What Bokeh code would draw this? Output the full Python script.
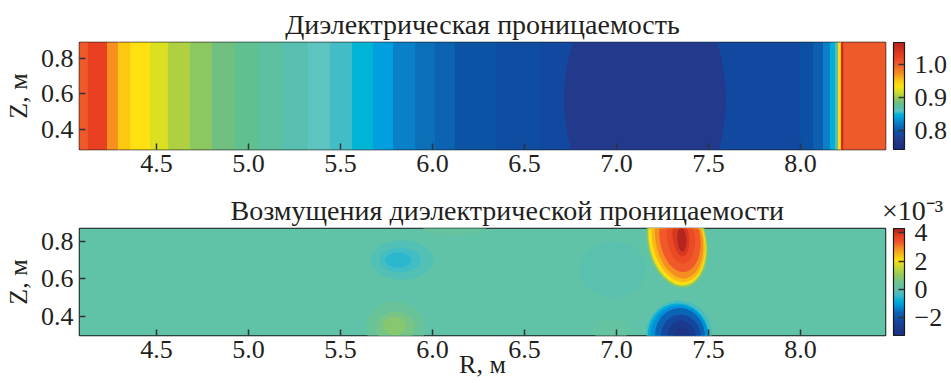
import numpy as np
from bokeh.plotting import figure
from bokeh.layouts import column
from bokeh.models import (ColumnDataSource, LinearColorMapper, ColorBar, FixedTicker,
                          PrintfTickFormatter, CustomJSTickFormatter, Title, Range1d)
from bokeh.transform import transform
from bokeh.embed import file_html
from bokeh.resources import INLINE

# ---------------- data ----------------
R_min, R_max = 4.082, 8.462
Z1_min, Z1_max = 0.287, 0.890
Z2_min, Z2_max = 0.299, 0.868

r_ticks = [4.5, 5.0, 5.5, 6.0, 6.5, 7.0, 7.5, 8.0]
z_ticks = [0.4, 0.6, 0.8]
eps_ticks = [0.8, 0.9, 1.0]
pert_ticks = [-2, 0, 2, 4]
pert_scale_text = "×10⁻³"
eps_low, eps_high = 0.743, 1.065
pert_low, pert_high = -3.24, 4.31   # x 1e-3

# permittivity: contour bands along R (left edge, right edge, level)
eps_left = [4.082, 4.130, 4.234, 4.293, 4.359, 4.467, 4.565, 4.685, 4.804, 4.929,
            5.054, 5.190, 5.326, 5.446, 5.565, 5.679, 5.788, 5.908, 6.016, 6.125,
            6.353, 6.587, 8.000, 8.071, 8.125, 8.163, 8.190, 8.207, 8.222, 8.236]
eps_right = [4.130, 4.234, 4.293, 4.359, 4.467, 4.565, 4.685, 4.804, 4.929, 5.054,
             5.190, 5.326, 5.446, 5.565, 5.679, 5.788, 5.908, 6.016, 6.125, 6.353,
             6.587, 8.000, 8.071, 8.125, 8.163, 8.190, 8.207, 8.222, 8.236, 8.462]
eps_level = [1.000, 1.025, 0.970, 0.950, 0.935, 0.920, 0.905, 0.895, 0.885, 0.878,
             0.872, 0.866, 0.860, 0.855, 0.848, 0.838, 0.825, 0.815, 0.808, 0.798,
             0.793, 0.789, 0.795, 0.805, 0.825, 0.845, 0.870, 0.935, 1.050, 1.000]
# permittivity minimum region (centre R, centre Z, extent R, extent Z, level)
eps_core_R = [7.155]
eps_core_Z = [0.57]
eps_core_w = [0.88]
eps_core_h = [1.40]
eps_core_level = [0.772]

# perturbation (x 1e-3): background level and contour levels of the features
pert_background = 0.05
pert_level = [0.4, 0.9, 1.5, 2.1, 2.5, 2.9, 3.3, 3.6, 3.9, 4.2,
              -0.3, -0.8, -1.2, -1.6, -2.2, -2.7, -3.0,
              -0.15, -0.35, -0.55,
              0.3, 0.6, 0.85,
              -0.06, 0.2, 0.18]
pert_R = [7.33, 7.33, 7.33, 7.33, 7.335, 7.34, 7.345, 7.35, 7.35, 7.355,
          7.34, 7.335, 7.34, 7.345, 7.35, 7.355, 7.36,
          5.835, 5.825, 5.815,
          5.80, 5.80, 5.795,
          6.98, 6.12, 6.97]
pert_Z = [0.795, 0.797, 0.80, 0.80, 0.805, 0.81, 0.815, 0.82, 0.82, 0.81,
          0.30, 0.30, 0.30, 0.30, 0.29, 0.28, 0.27,
          0.70, 0.70, 0.70,
          0.34, 0.34, 0.35,
          0.65, 0.88, 0.33]
pert_w = [0.33, 0.32, 0.31, 0.30, 0.28, 0.255, 0.22, 0.15, 0.09, 0.05,
          0.36, 0.33, 0.31, 0.27, 0.22, 0.16, 0.10,
          0.34, 0.22, 0.14,
          0.32, 0.21, 0.12,
          0.36, 0.35, 0.20]
pert_h = [0.50, 0.49, 0.48, 0.47, 0.45, 0.42, 0.36, 0.28, 0.20, 0.13,
          0.37, 0.34, 0.32, 0.29, 0.24, 0.20, 0.14,
          0.21, 0.13, 0.08,
          0.28, 0.17, 0.10,
          0.30, 0.10, 0.12]
pert_tilt = [0.2, 0.2, 0.2, 0.2, 0.2, 0.18, 0.15, 0.12, 0.1, 0.05,
             0.1, 0.1, 0.1, 0.1, 0.1, 0.1, 0.1,
             0.0, 0.0, 0.0,
             0.0, 0.0, 0.0,
             0.0, 0.0, 0.0]

# ---------------- styling ----------------
FONT = "Liberation Serif"
TXT = "#231f20"
FS = "26px"
FS_TITLE = "28px"

eps_anchor_v = [0.743, 0.772, 0.787, 0.795, 0.805, 0.815, 0.825, 0.838, 0.848, 0.855,
                0.860, 0.866, 0.872, 0.878, 0.885, 0.895, 0.905, 0.920, 0.935, 0.950,
                0.970, 1.000, 1.025, 1.065]
eps_anchor_c = ["#1c2f80", "#233a8c", "#1448a0", "#0b50a2", "#0c5fb0", "#0b70b8", "#0a80c8",
                "#00a0e0", "#00b4d8", "#40bcc8", "#5ec4c0", "#58c0b0", "#5cc0a0", "#60c090",
                "#70c080", "#8cc860", "#b0d040", "#dce020", "#ffe010", "#fcc810", "#f59020",
                "#f05a2a", "#e84020", "#b82020"]
pert_anchor_v = [-3.24, -2.6, -2.2, -1.6, -1.2, -0.8, -0.4, 0.0, 0.5, 1.0, 1.5, 2.1, 2.5,
                 2.9, 3.3, 3.8, 4.31]
pert_anchor_c = ["#1c2f80", "#1a3c90", "#1448a0", "#0b64b4", "#0090d8", "#00b0d8", "#40bcc8",
                 "#5ec2a8", "#70c490", "#90c860", "#c0d838", "#ffe010", "#f8b818", "#f59020",
                 "#f05a2a", "#e84020", "#a82020"]


def make_palette(vals, cols, lo, hi, n=256):
    rgb = np.array([[int(c[i:i + 2], 16) for i in (1, 3, 5)] for c in cols], dtype=float)
    xs = np.linspace(lo, hi, n)
    out = []
    for x in xs:
        r, g, b = (np.interp(x, vals, rgb[:, k]) for k in range(3))
        out.append("#%02x%02x%02x" % (int(round(r)), int(round(g)), int(round(b))))
    return out


eps_mapper = LinearColorMapper(palette=make_palette(eps_anchor_v, eps_anchor_c, eps_low, eps_high),
                               low=eps_low, high=eps_high)
pert_mapper = LinearColorMapper(palette=make_palette(pert_anchor_v, pert_anchor_c, pert_low, pert_high),
                                low=pert_low, high=pert_high)


def base_fig(zmin, zmax, top_border, bottom_border):
    p = figure(output_backend="svg", toolbar_location=None,
               x_range=Range1d(R_min, R_max), y_range=Range1d(zmin, zmax),
               frame_width=806, frame_height=107,
               min_border_left=79, min_border_right=66,
               min_border_top=top_border, min_border_bottom=bottom_border,
               background_fill_color="white", border_fill_color="white")
    p.xgrid.visible = False
    p.ygrid.visible = False
    p.outline_line_color = "#1a1a1a"
    p.outline_line_width = 1.5
    for ax in (p.xaxis[0], p.yaxis[0]):
        ax.axis_line_color = None
        ax.major_tick_in = 6
        ax.major_tick_out = 0
        ax.minor_tick_line_color = None
        ax.major_tick_line_color = "#333333"
        ax.major_tick_line_width = 1.5
        ax.major_label_text_font = FONT
        ax.major_label_text_font_size = FS
        ax.major_label_text_color = TXT
        ax.axis_label_text_font = FONT
        ax.axis_label_text_font_size = FS
        ax.axis_label_text_color = TXT
        ax.axis_label_text_font_style = "normal"
    p.xaxis.ticker = FixedTicker(ticks=r_ticks)
    p.xaxis.formatter = PrintfTickFormatter(format="%.1f")
    p.yaxis.ticker = FixedTicker(ticks=z_ticks)
    p.yaxis.formatter = PrintfTickFormatter(format="%.1f")
    p.xaxis.major_label_standoff = 5
    p.yaxis.major_label_standoff = 6
    p.yaxis.axis_label = "Z, м"
    p.yaxis.axis_label_standoff = 5
    return p


def style_cbar(cb):
    cb.major_label_text_font = FONT
    cb.major_label_text_font_size = FS
    cb.major_label_text_color = TXT
    cb.major_tick_in = 6
    cb.major_tick_out = 0
    cb.major_tick_line_color = "#333333"
    cb.major_tick_line_width = 1.5
    cb.bar_line_color = "#1a1a1a"
    cb.bar_line_width = 1.2
    cb.minor_tick_line_color = None
    cb.label_standoff = 10
    cb.background_fill_alpha = 0


# ---------------- top panel ----------------
p1 = base_fig(Z1_min, Z1_max, 42, 41)
src1 = ColumnDataSource(dict(left=eps_left, right=eps_right, level=eps_level,
                             bottom=[Z1_min] * len(eps_left), top=[Z1_max] * len(eps_left)))
p1.quad(left="left", right="right", bottom="bottom", top="top", source=src1,
        fill_color=transform("level", eps_mapper), line_color=transform("level", eps_mapper),
        line_width=1)
src1c = ColumnDataSource(dict(x=eps_core_R, y=eps_core_Z, w=eps_core_w, h=eps_core_h, level=eps_core_level))
p1.ellipse(x="x", y="y", width="w", height="h", source=src1c,
           fill_color=transform("level", eps_mapper), line_color=None)
p1.add_layout(Title(text="Диэлектрическая проницаемость", align="center", text_font=FONT,
                    text_font_size=FS_TITLE, text_font_style="normal", text_color=TXT, standoff=5), "above")
cb1 = ColorBar(color_mapper=eps_mapper, ticker=FixedTicker(ticks=eps_ticks),
               formatter=PrintfTickFormatter(format="%.1f"), width=11, height=107,
               padding=0, margin=0, location=(8, 0))
style_cbar(cb1)
p1.add_layout(cb1, "right")

# ---------------- bottom panel ----------------
p2 = base_fig(Z2_min, Z2_max, 38, 48)
p2.quad(left=[R_min], right=[R_max], bottom=[Z2_min], top=[Z2_max],
        fill_color=pert_mapper.palette[int((pert_background - pert_low) / (pert_high - pert_low) * 255)],
        line_color=None)
src2 = ColumnDataSource(dict(x=pert_R, y=pert_Z, w=pert_w, h=pert_h, a=pert_tilt, level=pert_level))
p2.ellipse(x="x", y="y", width="w", height="h", angle="a", source=src2,
           fill_color=transform("level", pert_mapper), line_color=None)
p2.xaxis.axis_label = "R, м"
p2.xaxis.axis_label_standoff = -11
gap = "\u2003\u2003\u2003\u00a0\u00a0"
p2.add_layout(Title(text="Возмущения диэлектрической проницаемости" + gap + pert_scale_text,
                    align="left", offset=151,
                    text_font=FONT, text_font_size=FS_TITLE, text_font_style="normal",
                    text_color=TXT, standoff=5), "above")
cb2 = ColorBar(color_mapper=pert_mapper, ticker=FixedTicker(ticks=pert_ticks),
               formatter=CustomJSTickFormatter(code="return tick < 0 ? '\u2212' + Math.abs(tick) : String(tick);"),
               width=11, height=107, padding=0, margin=0, location=(8, 0))
style_cbar(cb2)
p2.add_layout(cb2, "right")

layout = column(p1, p2, spacing=0)
open("out.html", "w").write(file_html(layout, INLINE))
